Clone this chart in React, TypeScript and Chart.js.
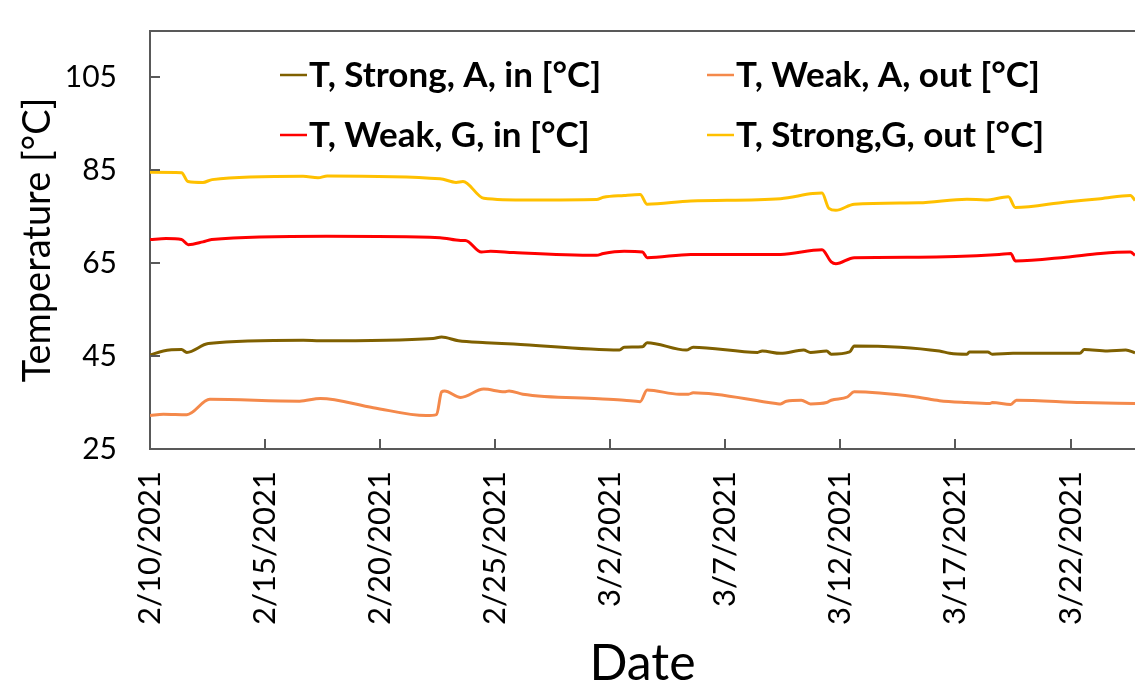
import React, { useEffect, useRef } from "react";
import { Chart, registerables } from "chart.js";

Chart.register(...registerables);

// x values are days since 2/10/2021
const dateTickDays = [0, 5, 10, 15, 20, 25, 30, 35, 40];
const dateTickLabels = [
  "2/10/2021", "2/15/2021", "2/20/2021", "2/25/2021", "3/2/2021",
  "3/7/2021", "3/12/2021", "3/17/2021", "3/22/2021",
];
const tempTicks = [25, 45, 65, 85, 105];

const seriesLabels = [
  "T, Strong, A, in [°C]",
  "T, Weak, A, out [°C]",
  "T, Weak, G, in [°C]",
  "T, Strong,G, out [°C]",
];
const seriesColors = ["#7F6000", "#F4894B", "#FF0000", "#FFC000"];

const strongAinDays = [0, 0.58, 1.37, 1.6, 2.53, 6.66, 7.4, 12.3, 12.67, 13.4, 14.6, 15.8, 20.4, 20.6, 21.4, 21.6, 23.3, 23.6, 26.4, 26.6, 27.4, 28.4, 28.7, 29.4, 29.6, 30.4, 30.6, 34.3, 34.75, 35.5, 35.6, 36.4, 36.6, 37.5, 40.4, 40.6, 41.6, 42.4, 42.8];
const strongAinValues = [45.2, 46.1, 46.4, 45.8, 47.7, 48.4, 48.3, 48.8, 49.1, 48.3, 47.9, 47.6, 46.3, 46.9, 47.0, 47.9, 46.3, 46.9, 45.8, 46.1, 45.6, 46.3, 45.8, 46.1, 45.4, 45.9, 47.2, 46.1, 45.6, 45.4, 45.9, 45.9, 45.4, 45.6, 45.6, 46.4, 46.1, 46.3, 45.7];

const weakAoutDays = [0, 0.58, 1.6, 2.6, 6.5, 7.4, 9.7, 12.0, 12.45, 12.67, 12.8, 13.5, 14.5, 15.4, 15.6, 16.2, 19.5, 20.6, 21.3, 21.6, 23.0, 23.4, 23.6, 27.2, 27.4, 27.65, 28.3, 28.7, 29.4, 29.6, 30.3, 30.6, 33.3, 34.3, 35.5, 36.5, 36.6, 37.4, 37.65, 40.5, 42.8];
const weakAoutValues = [32.2, 32.5, 32.4, 35.7, 35.3, 35.9, 33.9, 32.2, 32.4, 37.3, 37.5, 36.1, 37.9, 37.3, 37.5, 36.8, 35.8, 35.5, 35.2, 37.7, 36.8, 36.8, 37.1, 34.8, 34.7, 35.3, 35.5, 34.7, 35.0, 35.5, 36.2, 37.3, 36.2, 35.4, 35.0, 34.8, 35.0, 34.6, 35.5, 35.0, 34.8];

const weakGinDays = [0, 0.7, 1.37, 1.66, 2.3, 2.68, 7.67, 12.6, 13.5, 13.7, 14.4, 14.8, 15.8, 19.4, 19.7, 20.6, 21.4, 21.6, 23.5, 27.4, 29.2, 29.6, 29.8, 30.6, 33.4, 36.9, 37.4, 37.6, 39.8, 41.3, 42.6, 42.8];
const weakGinValues = [70.1, 70.3, 70.1, 69.0, 69.6, 70.1, 70.8, 70.5, 69.9, 69.9, 67.4, 67.6, 67.3, 66.7, 67.1, 67.6, 67.4, 66.2, 66.9, 66.9, 67.9, 65.3, 64.9, 66.2, 66.3, 66.9, 67.1, 65.5, 66.3, 67.1, 67.4, 66.7];

const strongGoutDays = [0, 1.37, 1.65, 2.3, 2.7, 6.65, 7.3, 7.7, 12.6, 13.3, 13.6, 14.5, 16.5, 19.4, 19.7, 20.6, 21.3, 21.6, 23.5, 27.4, 28.8, 29.2, 29.5, 29.8, 30.6, 33.4, 35.5, 36.3, 37.3, 37.6, 39.8, 41.3, 42.6, 42.8];
const strongGoutValues = [84.6, 84.5, 82.6, 82.4, 83.0, 83.7, 83.4, 83.8, 83.2, 82.4, 82.6, 79.0, 78.6, 78.7, 79.2, 79.6, 79.8, 77.7, 78.4, 78.9, 80.0, 80.1, 76.8, 76.4, 77.7, 78.0, 78.8, 78.6, 79.3, 77.0, 78.2, 78.9, 79.6, 78.5];

const FONT = "Lato, 'Open Sans', sans-serif";
const AXIS_COLOR = "#595959";

const toPoints = (xs: number[], ys: number[]) => xs.map((x, i) => ({ x, y: ys[i] }));

const decorPlugin = {
  id: "decor",
  afterDraw(chart: any) {
    const { ctx, chartArea, scales } = chart;
    const xs = scales.x;
    const ys = scales.y;
    ctx.save();
    ctx.strokeStyle = AXIS_COLOR;
    ctx.lineWidth = 2;
    ctx.beginPath();
    // top border
    ctx.moveTo(chartArea.left, chartArea.top);
    ctx.lineTo(chartArea.right, chartArea.top);
    // inward y ticks
    tempTicks.forEach((v) => {
      const py = Math.round(ys.getPixelForValue(v));
      ctx.moveTo(chartArea.left, py);
      ctx.lineTo(chartArea.left + 10, py);
    });
    // inward x ticks
    dateTickDays.forEach((d) => {
      const px = Math.round(xs.getPixelForValue(d));
      ctx.moveTo(px, chartArea.bottom);
      ctx.lineTo(px, chartArea.bottom - 10);
    });
    ctx.stroke();

    // legend (2 x 2)
    const cols = [280, 707];
    const rows = [87, 147];
    ctx.font = `bold 35px ${FONT}`;
    ctx.textBaseline = "alphabetic";
    ctx.textAlign = "left";
    chart.data.datasets.forEach((ds: any, i: number) => {
      const cx = cols[i % 2];
      const by = rows[Math.floor(i / 2)];
      ctx.strokeStyle = ds.borderColor;
      ctx.lineWidth = 2.5;
      ctx.beginPath();
      ctx.moveTo(cx, by - 12);
      ctx.lineTo(cx + 27, by - 12);
      ctx.stroke();
      ctx.fillStyle = "#000";
      ctx.fillText(ds.label, cx + 29, by);
    });
    ctx.restore();
  },
};

export default function App() {
  const canvasRef = useRef<HTMLCanvasElement | null>(null);

  useEffect(() => {
    if (!canvasRef.current) return;
    const seriesData = [
      toPoints(strongAinDays, strongAinValues),
      toPoints(weakAoutDays, weakAoutValues),
      toPoints(weakGinDays, weakGinValues),
      toPoints(strongGoutDays, strongGoutValues),
    ];
    const chart = new Chart(canvasRef.current, {
      type: "line",
      data: {
        datasets: seriesData.map((d, i) => ({
          label: seriesLabels[i],
          data: d,
          borderColor: seriesColors[i],
          backgroundColor: seriesColors[i],
          borderWidth: 3,
          pointRadius: 0,
          cubicInterpolationMode: "monotone" as const,
          fill: false,
        })),
      },
      options: {
        responsive: false,
        animation: false,
        layout: { padding: { top: 31, right: 0, left: 0, bottom: 0 } },
        plugins: {
          legend: { display: false },
          tooltip: { enabled: false },
        },
        scales: {
          x: {
            type: "linear",
            min: 0,
            max: 42.8,
            afterBuildTicks: (scale: any) => {
              scale.ticks = dateTickDays.map((v) => ({ value: v }));
            },
            afterFit: (scale: any) => {
              scale.height = 236;
              scale.paddingLeft = 0;
              scale.paddingRight = 0;
            },
            grid: { display: false, drawTicks: false, tickLength: 0 },
            border: { display: true, color: AXIS_COLOR, width: 2 },
            ticks: {
              autoSkip: false,
              minRotation: 90,
              maxRotation: 90,
              padding: 22,
              color: "#000",
              font: { family: FONT, size: 31 },
              callback: (value: any) => {
                const idx = dateTickDays.indexOf(Number(value));
                return idx >= 0 ? dateTickLabels[idx] : "";
              },
            },
            title: {
              display: true,
              text: "Date",
              color: "#000",
              font: { family: FONT, size: 50, lineHeight: 1 },
              padding: { top: 0, bottom: -4 },
            },
          },
          y: {
            type: "linear",
            min: 25,
            max: 115,
            afterBuildTicks: (scale: any) => {
              scale.ticks = tempTicks.map((v) => ({ value: v }));
            },
            afterFit: (scale: any) => {
              scale.width = 150;
              scale.paddingTop = 0;
              scale.paddingBottom = 0;
            },
            grid: { display: false, drawTicks: false, tickLength: 0 },
            border: { display: true, color: AXIS_COLOR, width: 2 },
            ticks: {
              padding: 33,
              color: "#000",
              font: { family: FONT, size: 30 },
            },
            title: {
              display: true,
              text: "Temperature [°C]",
              color: "#000",
              font: { family: FONT, size: 38, lineHeight: 1 },
              padding: { top: 19, bottom: 0 },
            },
          },
        },
      },
      plugins: [decorPlugin],
    });
    return () => chart.destroy();
  }, []);

  return (
    <div style={{ position: "absolute", left: 0, top: 0, width: 1135, height: 685, background: "#fff" }}>
      <canvas ref={canvasRef} width={1135} height={685} style={{ display: "block" }} />
    </div>
  );
}
